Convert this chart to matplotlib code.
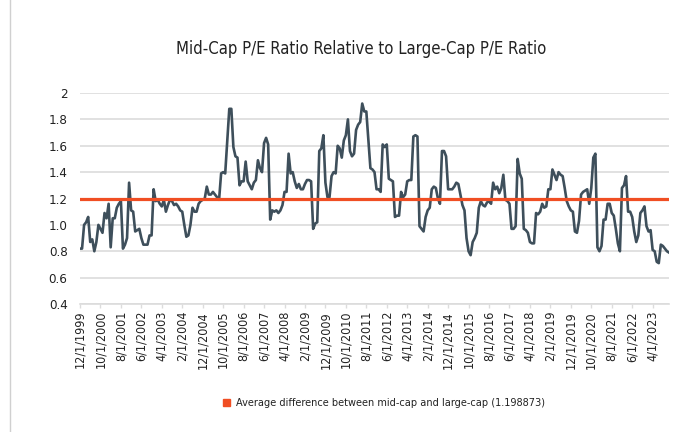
import matplotlib
matplotlib.use('Agg')
import matplotlib.pyplot as plt
from matplotlib import font_manager
from matplotlib.lines import Line2D
from matplotlib.patches import Rectangle
import pandas as pd
import numpy as np

# ---- data ----
dates = pd.date_range('1999-12-01', periods=289, freq='MS')
ratio = [
    0.82, 0.82, 1.00, 1.02, 1.06, 0.87, 0.89, 0.80, 0.87, 1.00,
    0.97, 0.94, 1.09, 1.05, 1.16, 0.83, 1.05, 1.05, 1.13, 1.16,
    1.18, 0.82, 0.85, 0.90, 1.32, 1.11, 1.10, 0.95, 0.96, 0.97,
    0.90, 0.85, 0.85, 0.85, 0.92, 0.92, 1.27, 1.18, 1.19, 1.16,
    1.14, 1.19, 1.10, 1.15, 1.19, 1.18, 1.15, 1.16, 1.14, 1.11,
    1.10, 1.00, 0.91, 0.92, 1.00, 1.13, 1.10, 1.10, 1.16, 1.18,
    1.19, 1.20, 1.29, 1.23, 1.23, 1.25, 1.23, 1.21, 1.19, 1.39,
    1.40, 1.39, 1.63, 1.88, 1.88, 1.59, 1.52, 1.51, 1.30, 1.33,
    1.33, 1.48, 1.33, 1.30, 1.27, 1.32, 1.34, 1.49, 1.43, 1.40,
    1.62, 1.66, 1.61, 1.04, 1.11, 1.10, 1.11, 1.09, 1.11, 1.15,
    1.25, 1.25, 1.54, 1.39, 1.40, 1.33, 1.28, 1.31, 1.27, 1.27,
    1.31, 1.34, 1.34, 1.33, 0.97, 1.01, 1.02, 1.56, 1.58, 1.68,
    1.32, 1.21, 1.21, 1.37, 1.40, 1.39, 1.60, 1.58, 1.51, 1.64,
    1.68, 1.80, 1.56, 1.52, 1.54, 1.72, 1.76, 1.78, 1.92, 1.86,
    1.86, 1.64, 1.43, 1.42, 1.40, 1.27, 1.27, 1.25, 1.61, 1.59,
    1.61, 1.35, 1.34, 1.33, 1.06, 1.07, 1.07, 1.25, 1.21, 1.23,
    1.33, 1.34, 1.34, 1.67, 1.68, 1.67, 0.99, 0.97, 0.95, 1.06,
    1.11, 1.13, 1.27, 1.29, 1.28, 1.20, 1.16, 1.56, 1.56, 1.52,
    1.27, 1.27, 1.27, 1.29, 1.32, 1.31, 1.23, 1.15, 1.11, 0.90,
    0.80, 0.77, 0.87, 0.90, 0.94, 1.13, 1.18, 1.15, 1.14, 1.17,
    1.18, 1.16, 1.32, 1.27, 1.29, 1.24, 1.28, 1.38, 1.19, 1.18,
    1.16, 0.97, 0.97, 0.99, 1.50, 1.39, 1.35, 0.97, 0.96, 0.94,
    0.87, 0.86, 0.86, 1.09, 1.08, 1.10, 1.16, 1.13, 1.14, 1.27,
    1.27, 1.42, 1.38, 1.34, 1.40, 1.38, 1.37, 1.28, 1.18, 1.14,
    1.11, 1.10, 0.95, 0.94, 1.03, 1.23, 1.25, 1.26, 1.27, 1.16,
    1.28, 1.51, 1.54, 0.83, 0.80, 0.84, 1.04, 1.04, 1.16, 1.16,
    1.09, 1.07, 0.97, 0.86, 0.80, 1.28, 1.30, 1.37, 1.10, 1.10,
    1.06, 0.95, 0.87, 0.92, 1.09, 1.11, 1.14, 0.99, 0.95, 0.96,
    0.81, 0.80, 0.72, 0.71, 0.85, 0.84, 0.82, 0.80, 0.79,
]
average = 1.198873
ytick_values = [0.4, 0.6, 0.8, 1.0, 1.2, 1.4, 1.6, 1.8, 2.0]
ytick_labels = ['0.4', '0.6', '0.8', '1.0', '1.2', '1.4', '1.6', '1.8', '2']
xtick_step = 10
title = 'Mid-Cap P/E Ratio Relative to Large-Cap P/E Ratio'
legend_label = 'Average difference between mid-cap and large-cap (1.198873)'

n = min(len(dates), len(ratio))
dates = dates[:n]
ratio = ratio[:n]
xlabels = [f'{d.month}/1/{d.year}' for d in dates]

# ---- fonts ----
names = {f.name for f in font_manager.fontManager.ttflist}
if 'Liberation Sans Narrow' in names:
    FONT = dict(family='Liberation Sans Narrow')
else:
    FONT = dict(family='DejaVu Sans', stretch='condensed')

LINE_C = '#3e4f5b'
AVG_C = '#f04e23'
GRID_C = '#dcdcdc'
TXT_C = '#222222'

fig = plt.figure(figsize=(6.94, 4.32), dpi=100)
W, H = 694, 432
left, right, top, bottom = 80, 669, 93, 304
ax = fig.add_axes([left / W, 1 - bottom / H, (right - left) / W, (bottom - top) / H])

x = np.arange(n)
ax.plot(x, ratio, color=LINE_C, lw=1.9, solid_joinstyle='round', zorder=3)
ax.axhline(average, color=AVG_C, lw=2.3, zorder=4)

ax.set_xlim(0, n - 1)
ax.set_ylim(0.4, 2.0)
ax.set_yticks(ytick_values)
ax.set_yticklabels(ytick_labels, fontsize=9.5, color=TXT_C, **FONT)
ax.yaxis.grid(True, color=GRID_C, lw=1.2)
ax.set_axisbelow(True)
ax.tick_params(axis='y', length=0, pad=9)

tick_pos = list(range(0, n, xtick_step))
ax.set_xticks(tick_pos)
ax.set_xticklabels([xlabels[i] for i in tick_pos], rotation=90, fontsize=9,
                   color=TXT_C, **FONT)
ax.tick_params(axis='x', length=3, color=GRID_C, width=1, pad=2)

for s in ['top', 'right', 'left']:
    ax.spines[s].set_visible(False)
ax.spines['bottom'].set_color(GRID_C)
ax.spines['bottom'].set_linewidth(1.2)

fig.text(361 / W, 1 - 49 / H, title, ha='center', va='center', fontsize=12,
         color=TXT_C, **FONT)

# legend
fig.patches.append(Rectangle((223 / W, 1 - 406 / H), 7 / W, 7 / H, color=AVG_C,
                             transform=fig.transFigure, figure=fig))
fig.text(236 / W, 1 - 402.5 / H, legend_label, ha='left', va='center',
         fontsize=7.8, color=TXT_C, **FONT)

# left border line
fig.add_artist(Line2D([10 / W, 10 / W], [0, 1], color='#d0d0d0', lw=1,
                      transform=fig.transFigure))

fig.savefig('out.png', dpi=100)
